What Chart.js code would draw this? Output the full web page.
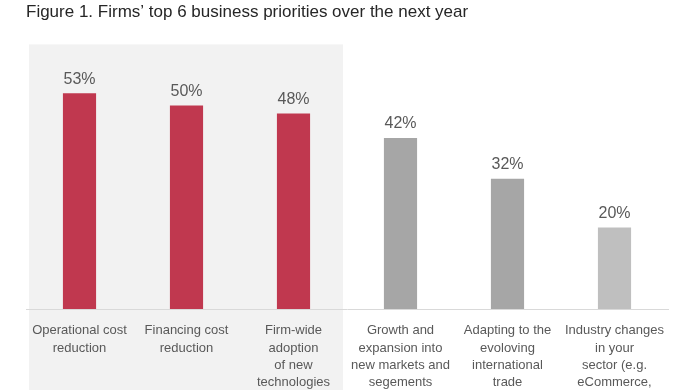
<!DOCTYPE html>
<html>
<head>
<meta charset="utf-8">
<script src="https://cdn.jsdelivr.net/npm/chart.js@4.4.0/dist/chart.umd.min.js"></script>
<style>
  html, body { margin: 0; padding: 0; background: #fff; }
  #wrap { width: 696px; height: 390px; }
</style>
</head>
<body>
<div id="wrap"><canvas id="chart" width="696" height="390"></canvas></div>
<script>
// chart data
const categories = [
  ["Operational cost", "reduction"],
  ["Financing cost", "reduction"],
  ["Firm-wide", "adoption", "of new", "technologies"],
  ["Growth and", "expansion into", "new markets and", "segements"],
  ["Adapting to the", "evoloving", "international", "trade"],
  ["Industry changes", "in your", "sector (e.g.", "eCommerce,"]
];
const values = [53, 50, 48, 42, 32, 20];
const valueLabels = ["53%", "50%", "48%", "42%", "32%", "20%"];
const barColors = ["#c0384f", "#c0384f", "#c0384f", "#a6a6a6", "#a6a6a6", "#bfbfbf"];
const shadedCount = 3; // first three bars sit on the grey panel

const FONT = "'Liberation Sans', Arial, sans-serif";
const TEXT_COL = "#595959";

// grey panel behind the first bars
const shadePlugin = {
  id: "shade",
  beforeDraw(chart) {
    const { ctx, chartArea, scales } = chart;
    const x = scales.x;
    const step = x.getPixelForValue(1) - x.getPixelForValue(0);
    const left = x.getPixelForValue(0) - step / 2 + 3;
    const right = x.getPixelForValue(shadedCount - 1) + step / 2 - 4;
    ctx.save();
    ctx.fillStyle = "#f2f2f2";
    ctx.fillRect(left, chartArea.top, right - left, chart.height - chartArea.top);
    ctx.restore();
  }
};

// % labels above bars
const valuePlugin = {
  id: "values",
  afterDatasetsDraw(chart) {
    const { ctx } = chart;
    const meta = chart.getDatasetMeta(0);
    ctx.save();
    ctx.font = "16px " + FONT;
    ctx.fillStyle = TEXT_COL;
    ctx.textAlign = "center";
    ctx.textBaseline = "middle";
    meta.data.forEach((bar, i) => {
      ctx.fillText(valueLabels[i], bar.x, bar.y - 14);
    });
    ctx.restore();
  }
};

new Chart(document.getElementById("chart").getContext("2d"), {
  type: "bar",
  data: {
    labels: categories,
    datasets: [{
      data: values,
      backgroundColor: barColors,
      borderWidth: 0,
      categoryPercentage: 1,
      barPercentage: 0.31
    }]
  },
  options: {
    responsive: false,
    animation: false,
    layout: { padding: { left: 26, right: 28, top: 0, bottom: 0 } },
    plugins: {
      legend: { display: false },
      tooltip: { enabled: false },
      title: {
        display: true,
        text: "Figure 1. Firms\u2019 top 6 business priorities over the next year",
        align: "start",
        color: "#262626",
        font: { family: FONT, size: 17, weight: "normal", lineHeight: 1.2 },
        padding: { top: 2, bottom: 22 }
      }
    },
    scales: {
      x: {
        grid: { display: false, drawTicks: false },
        border: { display: true, color: "#d9d9d9", width: 1 },
        ticks: {
          color: TEXT_COL,
          font: { family: FONT, size: 13, lineHeight: 1.33 },
          padding: 13,
          maxRotation: 0,
          autoSkip: false
        },
        afterFit(scale) { scale.height = 81; }
      },
      y: {
        display: false,
        min: 0,
        max: 65
      }
    }
  },
  plugins: [shadePlugin, valuePlugin]
});
</script>
</body>
</html>
